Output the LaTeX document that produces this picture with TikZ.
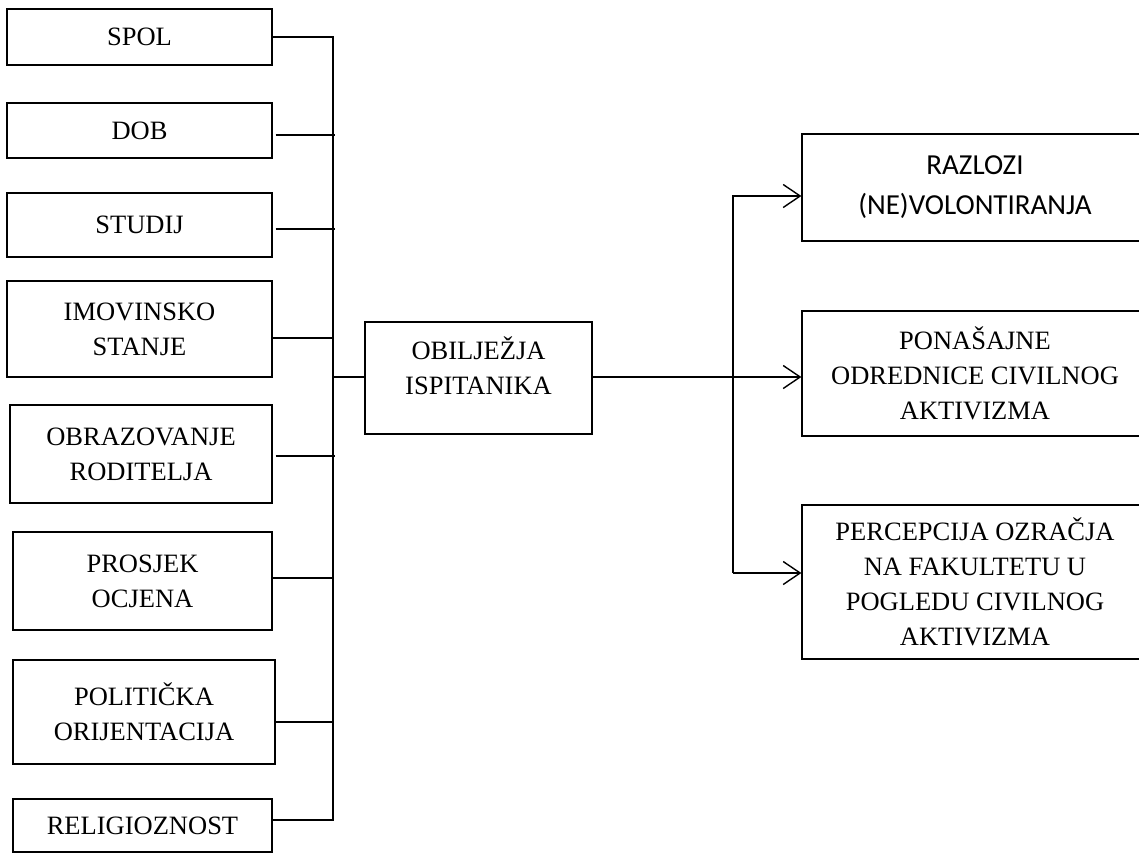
\documentclass[tikz,border=0pt]{standalone}
\usepackage{fontspec}
\setmainfont{Liberation Serif}
\newfontfamily\calibri{Carlito}
\usetikzlibrary{arrows.meta}

\begin{document}
\begin{tikzpicture}[x=1pt, y=-1pt, box/.style={draw, line width=1.2pt, align=center, inner sep=0pt, font=\fontsize{26.5}{35}\selectfont}, link/.style={line width=1.6pt, line join=miter}, arr/.style={link, -{Straight Barb[length=17pt,width=23pt,line width=1.4pt]}}]
  \useasboundingbox (0,0) rectangle (1139,855);
  \clip (0,0) rectangle (1139,855);
  % left column
  \node[box, minimum width=265pt, minimum height=56pt] (spol) at (139.5,37) {SPOL};
  \node[box, minimum width=265pt, minimum height=55pt] (dob) at (139.5,130.5) {DOB};
  \node[box, minimum width=265pt, minimum height=64pt] (studij) at (139.5,225) {STUDIJ};
  \node[box, minimum width=265pt, minimum height=96pt] (imov) at (139.5,329) {IMOVINSKO\\STANJE};
  \node[box, minimum width=262pt, minimum height=98pt] (obraz) at (141,454) {OBRAZOVANJE\\RODITELJA};
  \node[box, minimum width=259pt, minimum height=98pt] (prosjek) at (142.5,581) {PROSJEK\\OCJENA};
  \node[box, minimum width=262pt, minimum height=104pt] (polit) at (144,712) {POLITIČKA\\ORIJENTACIJA};
  \node[box, minimum width=259pt, minimum height=53pt] (relig) at (142.5,825.5) {RELIGIOZNOST};
  % middle
  \node[box, minimum width=227pt, minimum height=112pt] (obilj) at (478.5,378) {OBILJEŽJA\\ISPITANIKA\\[-10pt]};
  % right column
  \node[box, minimum width=346pt, minimum height=107pt, font=\calibri\fontsize{29}{40}\selectfont] (razlozi) at (975,187.5) {RAZLOZI\\(NE)VOLONTIRANJA};
  \node[box, minimum width=346pt, minimum height=125pt] (ponas) at (975,373.5) {PONAŠAJNE\\ODREDNICE CIVILNOG\\AKTIVIZMA};
  \node[box, minimum width=346pt, minimum height=154pt] (percep) at (975,582) {PERCEPCIJA OZRAČJA\\NA FAKULTETU U\\POGLEDU CIVILNOG\\AKTIVIZMA};

  \coordinate (bustop) at (333,37);
  \coordinate (busbot) at (333,820);
  \coordinate (jdob) at (335,135);
  \coordinate (jstudij) at (335,229);
  \coordinate (jimov) at (333,338);
  \coordinate (jobraz) at (335,456);
  \coordinate (jprosjek) at (333,578);
  \coordinate (jpolit) at (333,722);
  \coordinate (hub) at (333,377);
  \coordinate (rtop) at (733,196);
  \coordinate (rbot) at (733,573);

  \draw[link] (spol.east) -- (bustop) -- (busbot) -- (relig.east |- busbot);
  \draw[link] ([xshift=3pt]dob.east |- jdob) -- (jdob);
  \draw[link] ([xshift=3pt]studij.east |- jstudij) -- (jstudij);
  \draw[link] (imov.east |- jimov) -- (jimov);
  \draw[link] ([xshift=3pt]obraz.east |- jobraz) -- (jobraz);
  \draw[link] (prosjek.east |- jprosjek) -- (jprosjek);
  \draw[link] (polit.east |- jpolit) -- (jpolit);
  \draw[link] (hub) -- (obilj.west |- hub);

  \draw[arr] (obilj.east |- hub) -- (ponas.west |- hub);
  \draw[arr] (rbot) -- (rtop) -- (razlozi.west |- rtop);
  \draw[arr] (rbot) -- (percep.west |- rbot);
\end{tikzpicture}
\end{document}
